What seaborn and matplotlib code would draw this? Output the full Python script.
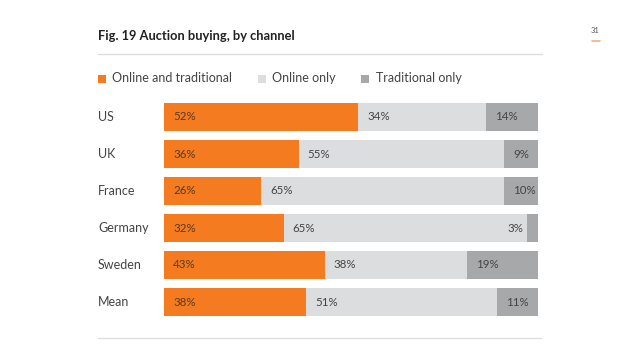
import pandas as pd
import seaborn as sns
import matplotlib.pyplot as plt
from matplotlib.patches import Rectangle
from matplotlib.lines import Line2D

# Data
countries = ["US", "UK", "France", "Germany", "Sweden", "Mean"]
online_and_traditional = [52, 36, 26, 32, 43, 38]
online_only = [34, 55, 65, 65, 38, 51]
traditional_only = [14, 9, 10, 3, 19, 11]
series_names = ["Online and traditional", "Online only", "Traditional only"]

ORANGE = "#F47B20"
LIGHT = "#DCDDDE"
DARK = "#A7A8AA"
TXT = "#444444"

df = pd.DataFrame({
    "country": countries,
    "both": online_and_traditional,
    "online": online_only,
    "trad": traditional_only,
})
df["cum1"] = df["both"]
df["cum2"] = df["both"] + df["online"]
df["cum3"] = df["cum2"] + df["trad"]

sns.set_style("white")
plt.rcParams["font.family"] = ["Lato", "DejaVu Sans"]

fig = plt.figure(figsize=(6.4, 3.53), dpi=100)
ax = fig.add_axes([164 / 640, 1 - 320.5 / 353, 374 / 640, 222 / 353])

# stacked bars drawn back to front
for col, colr in [("cum3", DARK), ("cum2", LIGHT), ("cum1", ORANGE)]:
    sns.barplot(data=df, x=col, y="country", color=colr, orient="h",
                width=0.73, ax=ax, saturation=1, linewidth=0)

ax.set_xlim(0, 100)
ax.set_ylim(5.5, -0.5)
ax.set_xlabel("")
ax.set_ylabel("")
ax.set_xticks([])
ax.set_yticks([])
sns.despine(ax=ax, left=True, bottom=True)

# value labels
for i, row in df.iterrows():
    ax.text(2.4, i, f"{row['both']}%", va="center", ha="left", fontsize=8.3, color="#5a3a25")
    ax.text(row["cum1"] + 2.4, i, f"{row['online']}%", va="center", ha="left", fontsize=8.3, color=TXT)
    if row["trad"] < 5:
        ax.text(row["cum2"] - 0.8, i, f"{row['trad']}%", va="center", ha="right", fontsize=8.3, color=TXT)
    else:
        ax.text(row["cum2"] + 2.4, i, f"{row['trad']}%", va="center", ha="left", fontsize=8.3, color=TXT)

# country labels
for i, c in enumerate(countries):
    fig.text(98 / 640, 1 - (117 + 37 * i) / 353, c, va="center", ha="left", fontsize=9, color=TXT)

# title and rules
fig.text(98 / 640, 1 - 36 / 353, "Fig. 19 Auction buying, by channel", va="center", ha="left",
         fontsize=9.3, fontweight="bold", color="#222222")
fig.lines.append(Line2D([98 / 640, 542 / 640], [1 - 53.5 / 353, 1 - 53.5 / 353],
                        transform=fig.transFigure, color="#dddddd", lw=1))
fig.lines.append(Line2D([98 / 640, 541 / 640], [1 - 338 / 353, 1 - 338 / 353],
                        transform=fig.transFigure, color="#dddddd", lw=1))

# page number
fig.text(595 / 640, 1 - 30.5 / 353, "31", va="center", ha="center", fontsize=5.5, color="#555555")
fig.lines.append(Line2D([592 / 640, 600 / 640], [1 - 41 / 353, 1 - 41 / 353],
                        transform=fig.transFigure, color="#F2B07E", lw=1.2))

# legend
legend_x = [98, 258, 361]
for x, name, colr in zip(legend_x, series_names, [ORANGE, LIGHT, DARK]):
    fig.patches.append(Rectangle((x / 640, 1 - 82.5 / 353), 8 / 640, 8 / 353,
                                 transform=fig.transFigure, color=colr, lw=0))
    fig.text((x + 14.5) / 640, 1 - 78.5 / 353, name, va="center", ha="left", fontsize=9, color=TXT)

fig.savefig("out.png", dpi=100)
